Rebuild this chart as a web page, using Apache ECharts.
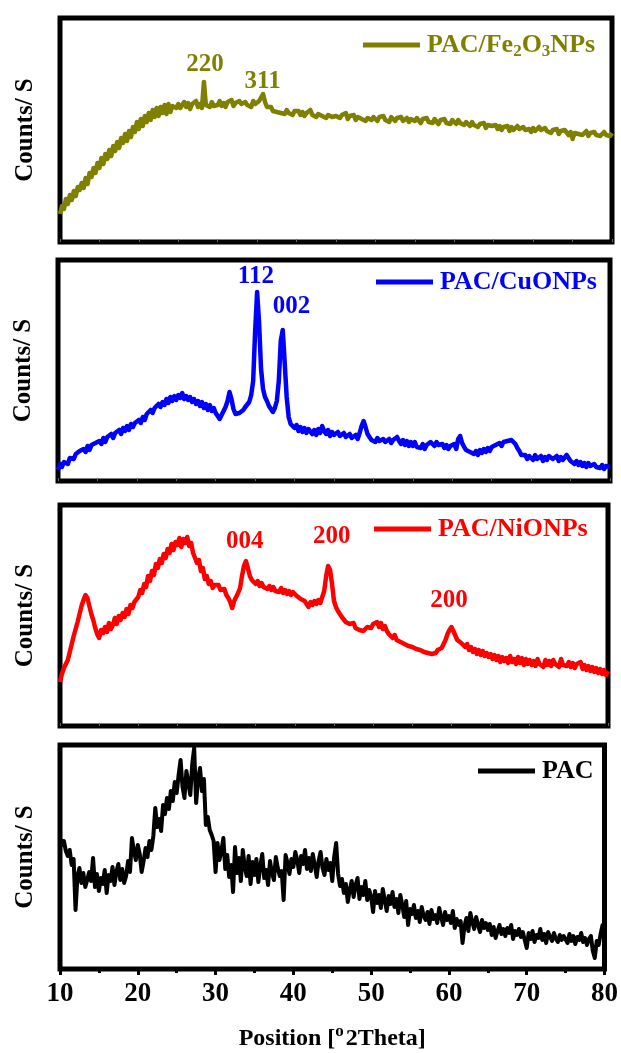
<!DOCTYPE html>
<html>
<head>
<meta charset="utf-8">
<script src="https://cdn.jsdelivr.net/npm/echarts@6/dist/echarts.min.js"></script>
<style>
  html, body { margin: 0; padding: 0; background: #fff; }
  #chart { width: 621px; height: 1053px; }
</style>
</head>
<body>
<div id="chart"></div>
<script>
// XRD scans, 2θ from 10° to 80° in 0.25° steps (intensity, arbitrary counts)
const thetaStart = 10;
const thetaStep = 0.25;

const fe2o3Counts = [
  28,36,33,43,38,47,42,51,46,55,52,59,54,64,58,69,65,74,69,79,
  74,84,78,88,83,92,86,96,91,100,94,104,99,108,101,111,105,115,110,120,
  113,123,116,126,120,129,122,132,125,134,126,135,129,137,128,138,130,136,135,134,
  138,134,136,140,135,139,133,138,136,141,135,138,134,160,137,139,135,140,136,138,
  137,141,136,139,135,140,138,142,136,139,137,141,138,136,140,137,139,135,141,138,
  139,141,143,148,140,135,133,135,131,133,130,132,129,131,128,132,129,130,127,131,
  129,131,127,130,126,129,128,132,127,129,125,128,130,126,128,124,127,129,125,127,
  126,128,124,127,125,129,123,126,124,127,122,125,126,123,125,121,124,126,122,125,
  124,121,125,123,126,122,124,120,125,123,121,124,122,125,121,123,124,120,123,122,
  121,124,122,119,123,121,124,120,122,119,123,121,118,122,120,123,119,121,118,122,
  120,118,122,119,121,117,120,118,116,120,117,119,115,118,116,119,114,117,115,116,
  114,117,113,116,112,115,113,116,111,115,112,114,116,113,111,115,112,114,113,110,
  114,111,113,115,112,110,114,111,113,109,112,110,113,108,111,109,112,110,107,110,
  103,109,111,108,110,107,109,111,106,109,108,110,107,109,106,108,110,107,108,106,
  109
];

const cuoCounts = [
  11,17,14,19,21,17,23,25,22,27,25,30,28,32,29,35,31,36,34,38,
  36,40,37,43,39,44,42,47,43,48,46,51,47,53,50,55,51,57,54,58,
  56,61,58,64,61,67,65,71,68,73,71,77,74,79,76,82,78,84,80,85,
  81,86,83,88,82,85,81,84,79,82,77,80,75,79,73,77,71,76,70,73,
  68,65,62,66,70,74,80,89,82,72,67,65,68,67,71,74,76,79,86,100,
  150,189,158,112,92,84,80,75,72,69,73,80,100,140,151,118,84,64,57,55,
  53,56,50,54,49,53,48,52,51,47,51,46,52,48,55,50,47,51,45,49,
  46,44,49,45,43,48,44,42,47,43,41,46,42,48,55,60,54,47,44,41,
  42,39,43,40,38,42,39,37,42,38,41,43,44,40,37,41,36,40,35,39,
  35,39,34,36,33,37,32,36,38,39,37,35,39,36,34,37,33,36,32,35,
  33,37,32,42,45,38,34,31,33,29,31,27,30,26,31,28,32,29,33,30,
  34,32,36,34,38,35,39,37,40,38,41,39,37,33,30,26,24,26,22,25,
  23,21,26,22,21,25,20,24,21,25,26,22,21,25,20,24,21,23,26,24,
  20,21,17,20,16,19,15,18,14,18,15,13,17,14,16,13,16,12,15,13,
  14
];

const nioCounts = [
  44,52,58,62,66,74,82,90,97,104,112,120,126,131,128,120,112,106,98,92,
  88,96,93,99,94,103,97,101,108,102,110,106,113,109,117,112,121,118,124,122,
  129,136,133,142,139,150,145,155,151,162,158,167,163,172,168,177,173,182,176,184,
  181,188,179,187,183,189,180,183,173,174,163,166,155,158,147,150,142,145,138,141,
  139,141,136,134,137,131,128,124,118,125,129,133,138,150,160,165,158,150,146,144,
  142,145,140,143,139,141,137,140,136,139,135,137,134,138,133,136,132,135,131,134,
  133,130,132,127,129,125,122,119,124,121,125,122,126,123,125,135,150,160,156,142,
  125,119,115,112,109,107,104,106,102,100,103,98,99,96,98,95,97,99,101,98,
  102,100,104,99,103,97,100,95,92,90,88,91,86,88,84,85,82,83,80,81,
  79,80,77,78,76,77,74,76,73,75,72,74,73,76,75,78,82,86,92,96,
  99,95,94,86,87,83,85,79,82,76,79,74,77,72,76,71,75,70,73,69,
  72,67,71,66,70,64,69,65,68,63,70,64,67,62,69,63,68,61,67,62,
  66,61,65,60,67,62,64,59,66,61,65,60,66,62,64,59,67,61,63,60,
  64,59,63,58,62,60,64,57,61,56,60,55,59,54,58,53,57,52,56,51,
  55
];

const pacCounts = [
  131,124,128,118,113,119,104,110,59,93,101,86,96,82,89,97,88,111,82,95,
  78,91,85,99,76,94,88,102,84,97,105,89,100,86,93,108,97,131,118,109,
  124,115,97,108,121,112,128,119,133,161,142,150,138,164,155,171,160,178,168,187,
  176,194,209,182,171,198,186,174,205,221,166,190,201,178,190,144,152,139,134,128,
  97,126,109,118,131,100,114,92,104,77,122,96,111,88,119,102,93,113,85,107,
  94,110,87,103,115,91,99,84,108,96,89,112,101,93,98,69,114,106,95,110,
  102,117,109,96,113,105,119,100,111,98,115,104,92,108,117,101,94,110,99,106,
  88,112,126,95,83,90,76,85,67,79,88,72,84,91,70,82,74,88,69,79,
  72,57,78,66,74,61,80,69,58,73,65,77,62,70,56,74,64,52,68,44,
  60,55,64,51,58,47,62,53,49,57,45,59,50,54,46,61,52,44,57,49,
  53,46,58,41,50,44,48,26,43,51,38,56,47,40,52,44,37,49,41,46,
  39,45,34,42,31,38,44,35,40,33,41,36,44,30,38,34,40,32,37,29,
  21,36,30,38,27,34,31,40,29,35,26,37,32,28,36,30,27,34,29,33,
  31,26,35,28,33,25,32,29,36,27,31,24,30,33,18,11,28,24,35,44,
  40
];

const seriesNames = ['PAC/Fe2O3NPs', 'PAC/CuONPs', 'PAC/NiONPs', 'PAC'];
const xTickLabels = ['10', '20', '30', '40', '50', '60', '70', '80'];
const yAxisTitle = 'Counts/ S';

const pairs = (vals) => vals.map((v, i) => [thetaStart + i * thetaStep, v]);

const FONT = 'Liberation Serif';
const colors = ['#808000', '#0000ff', '#ff0000', '#000000'];

const grids = [
  { left: 60, right: 9,  top: 18,  height: 224 },
  { left: 58, right: 11, top: 260, height: 221 },
  { left: 60, right: 13, top: 505, height: 221 },
  { left: 60, right: 16, top: 745, height: 224 }
].map(g => Object.assign({ show: true, borderWidth: 5, borderColor: '#000', backgroundColor: 'transparent' }, g));

const yMax = [224, 221, 221, 224];

const xAxes = grids.map((g, i) => {
  const last = i === 3;
  return {
    type: 'value', gridIndex: i, min: 10, max: 80,
    interval: last ? 10 : 5,
    axisLine: { show: false },
    splitLine: { show: false },
    axisTick: last
      ? { show: true, inside: false, length: 6, lineStyle: { width: 3, color: '#000' } }
      : { show: true, inside: true, length: 3, lineStyle: { width: 1, color: '#666' } },
    minorTick: last
      ? { show: true, splitNumber: 2, length: 4, lineStyle: { width: 3, color: '#000' } }
      : { show: false },
    axisLabel: last
      ? { show: true, margin: 12, fontFamily: FONT, fontWeight: 'bold', fontSize: 27, color: '#000',
          formatter: (v) => xTickLabels[Math.round((v - 10) / 10)] }
      : { show: false },
    name: last ? 'Position [{sup|o}2Theta]' : '',
    nameLocation: 'middle',
    nameGap: 54,
    nameTextStyle: {
      fontFamily: FONT, fontWeight: 'bold', fontSize: 24, color: '#000',
      rich: { sup: { fontFamily: FONT, fontWeight: 'bold', fontSize: 17, color: '#000', verticalAlign: 'top', padding: [0, 2, 14, 0] } }
    }
  };
});

const yAxes = grids.map((g, i) => ({
  type: 'value', gridIndex: i, min: 0, max: yMax[i],
  axisLine: { show: false }, axisTick: { show: false }, axisLabel: { show: false }, splitLine: { show: false },
  name: yAxisTitle, nameLocation: 'middle', nameRotate: 90, nameGap: 22,
  nameTextStyle: { fontFamily: FONT, fontWeight: 'bold', fontSize: 25, color: '#000' }
}));

const peakLabel = (text, coord, color) => ({
  name: text, coord: coord,
  symbol: 'rect', symbolSize: 1, itemStyle: { color: 'transparent' },
  label: { show: true, position: 'inside', formatter: '{b}', fontFamily: FONT, fontWeight: 'bold', fontSize: 25, color: color }
});

const dataSets = [fe2o3Counts, cuoCounts, nioCounts, pacCounts];
const peaks = [
  [['220', [28.4, 177]], ['311', [35.7, 160]]],
  [['112', [35.1, 204]], ['002', [39.6, 174]]],
  [['004', [33.6, 184]], ['200', [44.7, 189]], ['200', [59.7, 125]]],
  []
];

const series = dataSets.map((vals, i) => ({
  name: seriesNames[i], type: 'line', xAxisIndex: i, yAxisIndex: i,
  data: pairs(vals), showSymbol: false, symbol: 'none', animation: false,
  lineStyle: { color: colors[i], width: i === 3 ? 4 : 4.5, join: 'round' },
  itemStyle: { color: colors[i] },
  markPoint: peaks[i].length ? { animation: false, data: peaks[i].map(p => peakLabel(p[0], p[1], colors[i])) } : undefined
}));

const legendPos = [
  { left: 363, top: 31 },
  { left: 376, top: 269 },
  { left: 374, top: 516 },
  { left: 478, top: 758 }
];

const legends = seriesNames.map((n, i) => ({
  data: [n], left: legendPos[i].left, top: legendPos[i].top,
  icon: 'rect', itemWidth: 57, itemHeight: 5, itemGap: 0, selectedMode: false, padding: 0,
  formatter: (name) => name === 'PAC/Fe2O3NPs' ? '{a|PAC/Fe}{s|2}{a|O}{s|3}{a|NPs}' : '{a|' + name + '}',
  textStyle: {
    color: colors[i], fontFamily: FONT, fontWeight: 'bold', fontSize: 26, padding: [0, 0, 0, 2],
    rich: {
      a: { color: colors[i], fontFamily: FONT, fontWeight: 'bold', fontSize: 26, lineHeight: 30 },
      s: { color: colors[i], fontFamily: FONT, fontWeight: 'bold', fontSize: 17, lineHeight: 30, verticalAlign: 'bottom', padding: [12, 0, 0, 0] }
    }
  }
}));

const chart = echarts.init(document.getElementById('chart'), null, { renderer: 'canvas' });
chart.setOption({
  backgroundColor: '#fff',
  animation: false,
  grid: grids,
  xAxis: xAxes,
  yAxis: yAxes,
  legend: legends,
  series: series
});
</script>
</body>
</html>
